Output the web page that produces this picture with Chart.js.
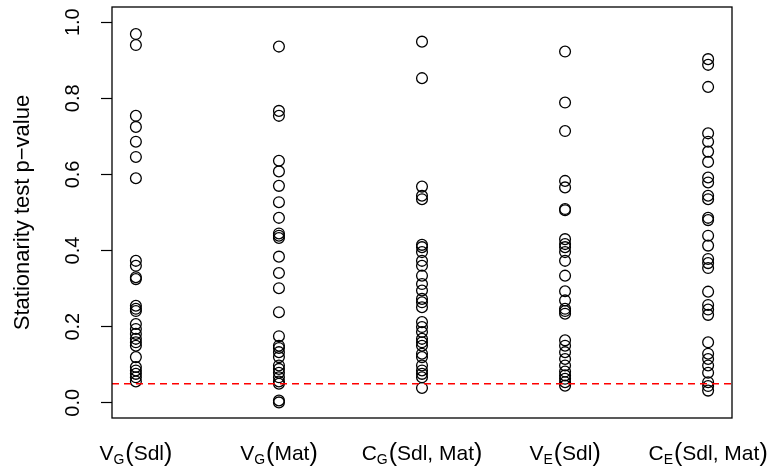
<!DOCTYPE html>
<html>
<head>
<meta charset="utf-8">
<script src="https://cdn.jsdelivr.net/npm/chart.js@4.4.1/dist/chart.umd.min.js"></script>
<style>
  html, body { margin: 0; padding: 0; background: #fff; }
</style>
</head>
<body>
<canvas id="strip" width="769" height="467"></canvas>
<script>
const family = "'Liberation Sans', Arial, Helvetica, sans-serif";
Chart.defaults.font.family = family;
Chart.defaults.color = '#000';

// x labels: main letter, subscript, argument
const catMain = ['V', 'V', 'C', 'V', 'C'];
const catSub = ['G', 'G', 'G', 'E', 'E'];
const catArg = ['Sdl', 'Mat', 'Sdl, Mat', 'Sdl', 'Sdl, Mat'];

const yTicks = [0.0, 0.2, 0.4, 0.6, 0.8, 1.0];
const cutoff = 0.05;

// p-values
const pVGSdl = [0.969, 0.940, 0.754, 0.725, 0.686, 0.646, 0.590, 0.373, 0.360, 0.330, 0.325,
  0.255, 0.247, 0.241, 0.207, 0.194, 0.181, 0.168, 0.159, 0.150, 0.120, 0.094, 0.085, 0.076, 0.067, 0.056];
const pVGMat = [0.936, 0.767, 0.754, 0.636, 0.608, 0.570, 0.527, 0.486, 0.445, 0.439, 0.433, 0.384,
  0.341, 0.301, 0.238, 0.175, 0.150, 0.144, 0.133, 0.120, 0.098, 0.089, 0.079, 0.067, 0.056, 0.050, 0.006, 0.001];
const pCGSdlMat = [0.949, 0.853, 0.568, 0.544, 0.535, 0.415, 0.409, 0.396, 0.373, 0.360, 0.334, 0.312,
  0.295, 0.273, 0.264, 0.251, 0.212, 0.199, 0.186, 0.168, 0.159, 0.150, 0.129, 0.120, 0.098, 0.085, 0.076, 0.067, 0.039];
const pVESdl = [0.923, 0.789, 0.714, 0.583, 0.566, 0.509, 0.506, 0.430, 0.417, 0.409, 0.396, 0.373, 0.334,
  0.293, 0.269, 0.247, 0.241, 0.234, 0.164, 0.150, 0.133, 0.115, 0.098, 0.082, 0.072, 0.063, 0.054, 0.045];
const pCESdlMat = [0.903, 0.888, 0.830, 0.708, 0.686, 0.660, 0.633, 0.592, 0.579, 0.544, 0.535, 0.486,
  0.480, 0.439, 0.413, 0.378, 0.367, 0.354, 0.292, 0.257, 0.245, 0.231, 0.159, 0.129, 0.115, 0.098, 0.079, 0.054, 0.044, 0.032];

const columns = [pVGSdl, pVGMat, pCGSdlMat, pVESdl, pCESdlMat];
const xMin = 0.833, xMax = 5.167;

const pointSets = columns.map((vals, i) => ({
  type: 'scatter',
  data: vals.map(v => ({ x: i + 1, y: v })),
  borderColor: '#000',
  backgroundColor: 'rgba(0,0,0,0)',
  borderWidth: 1.3,
  pointRadius: 5.4,
  order: 1,
}));

// box around the plot and the subscripted category labels
const frameAndLabels = {
  id: 'frameAndLabels',
  afterDraw(chart) {
    const { ctx, chartArea: a, scales: { x } } = chart;
    ctx.save();
    ctx.strokeStyle = '#000';
    ctx.lineWidth = 1.3;
    ctx.strokeRect(a.left, a.top, a.right - a.left, a.bottom - a.top);

    ctx.fillStyle = '#000';
    ctx.textBaseline = 'alphabetic';
    ctx.textAlign = 'left';
    const fMain = '21px ' + family, fSub = '14px ' + family, fPar = '25px ' + family;
    const base = 460;
    catMain.forEach((m, i) => {
      ctx.font = fMain; const wM = ctx.measureText(m).width; const wA = ctx.measureText(catArg[i]).width;
      ctx.font = fSub; const wS = ctx.measureText(catSub[i]).width;
      ctx.font = fPar; const wO = ctx.measureText('(').width; const wC = ctx.measureText(')').width;
      let px = x.getPixelForValue(i + 1) - (wM + wS + wO + wA + wC + 1) / 2;
      ctx.font = fMain; ctx.fillText(m, px, base); px += wM;
      ctx.font = fSub; ctx.fillText(catSub[i], px, base + 4); px += wS + 1;
      ctx.font = fPar; ctx.fillText('(', px, base + 1); px += wO;
      ctx.font = fMain; ctx.fillText(catArg[i], px, base); px += wA;
      ctx.font = fPar; ctx.fillText(')', px, base + 1);
    });
    ctx.restore();
  }
};

new Chart(document.getElementById('strip'), {
  data: {
    datasets: [
      ...pointSets,
      {
        type: 'line',
        data: [{ x: xMin, y: cutoff }, { x: xMax, y: cutoff }],
        borderColor: '#ff0000',
        borderWidth: 1.5,
        borderDash: [7, 5],
        pointRadius: 0,
        order: 0,
      },
    ]
  },
  options: {
    responsive: false,
    animation: false,
    layout: { padding: { left: 0, right: 37, top: 7, bottom: 0 } },
    plugins: { legend: { display: false }, tooltip: { enabled: false } },
    scales: {
      x: {
        type: 'linear',
        min: xMin,
        max: xMax,
        grid: { display: false },
        border: { display: false },
        ticks: { display: false },
        afterFit: s => { s.height = 49; s.paddingLeft = 0; s.paddingRight = 0; },
      },
      y: {
        type: 'linear',
        min: -0.04,
        max: 1.04,
        afterBuildTicks: s => { s.ticks = yTicks.map(v => ({ value: v })); },
        afterFit: s => { s.width = 112; s.paddingTop = 0; s.paddingBottom = 0; },
        grid: { drawOnChartArea: false, tickLength: 11, tickColor: '#000', tickWidth: 1.2 },
        border: { display: false },
        ticks: {
          minRotation: 90,
          maxRotation: 90,
          crossAlign: 'center',
          padding: 14,
          color: '#000',
          font: { size: 20 },
          callback: v => v.toFixed(1),
        },
        title: {
          display: true,
          text: 'Stationarity test p−value',
          color: '#000',
          font: { size: 22 },
          padding: { top: 10, bottom: 0 },
        },
      },
    },
  },
  plugins: [frameAndLabels],
});
</script>
</body>
</html>
